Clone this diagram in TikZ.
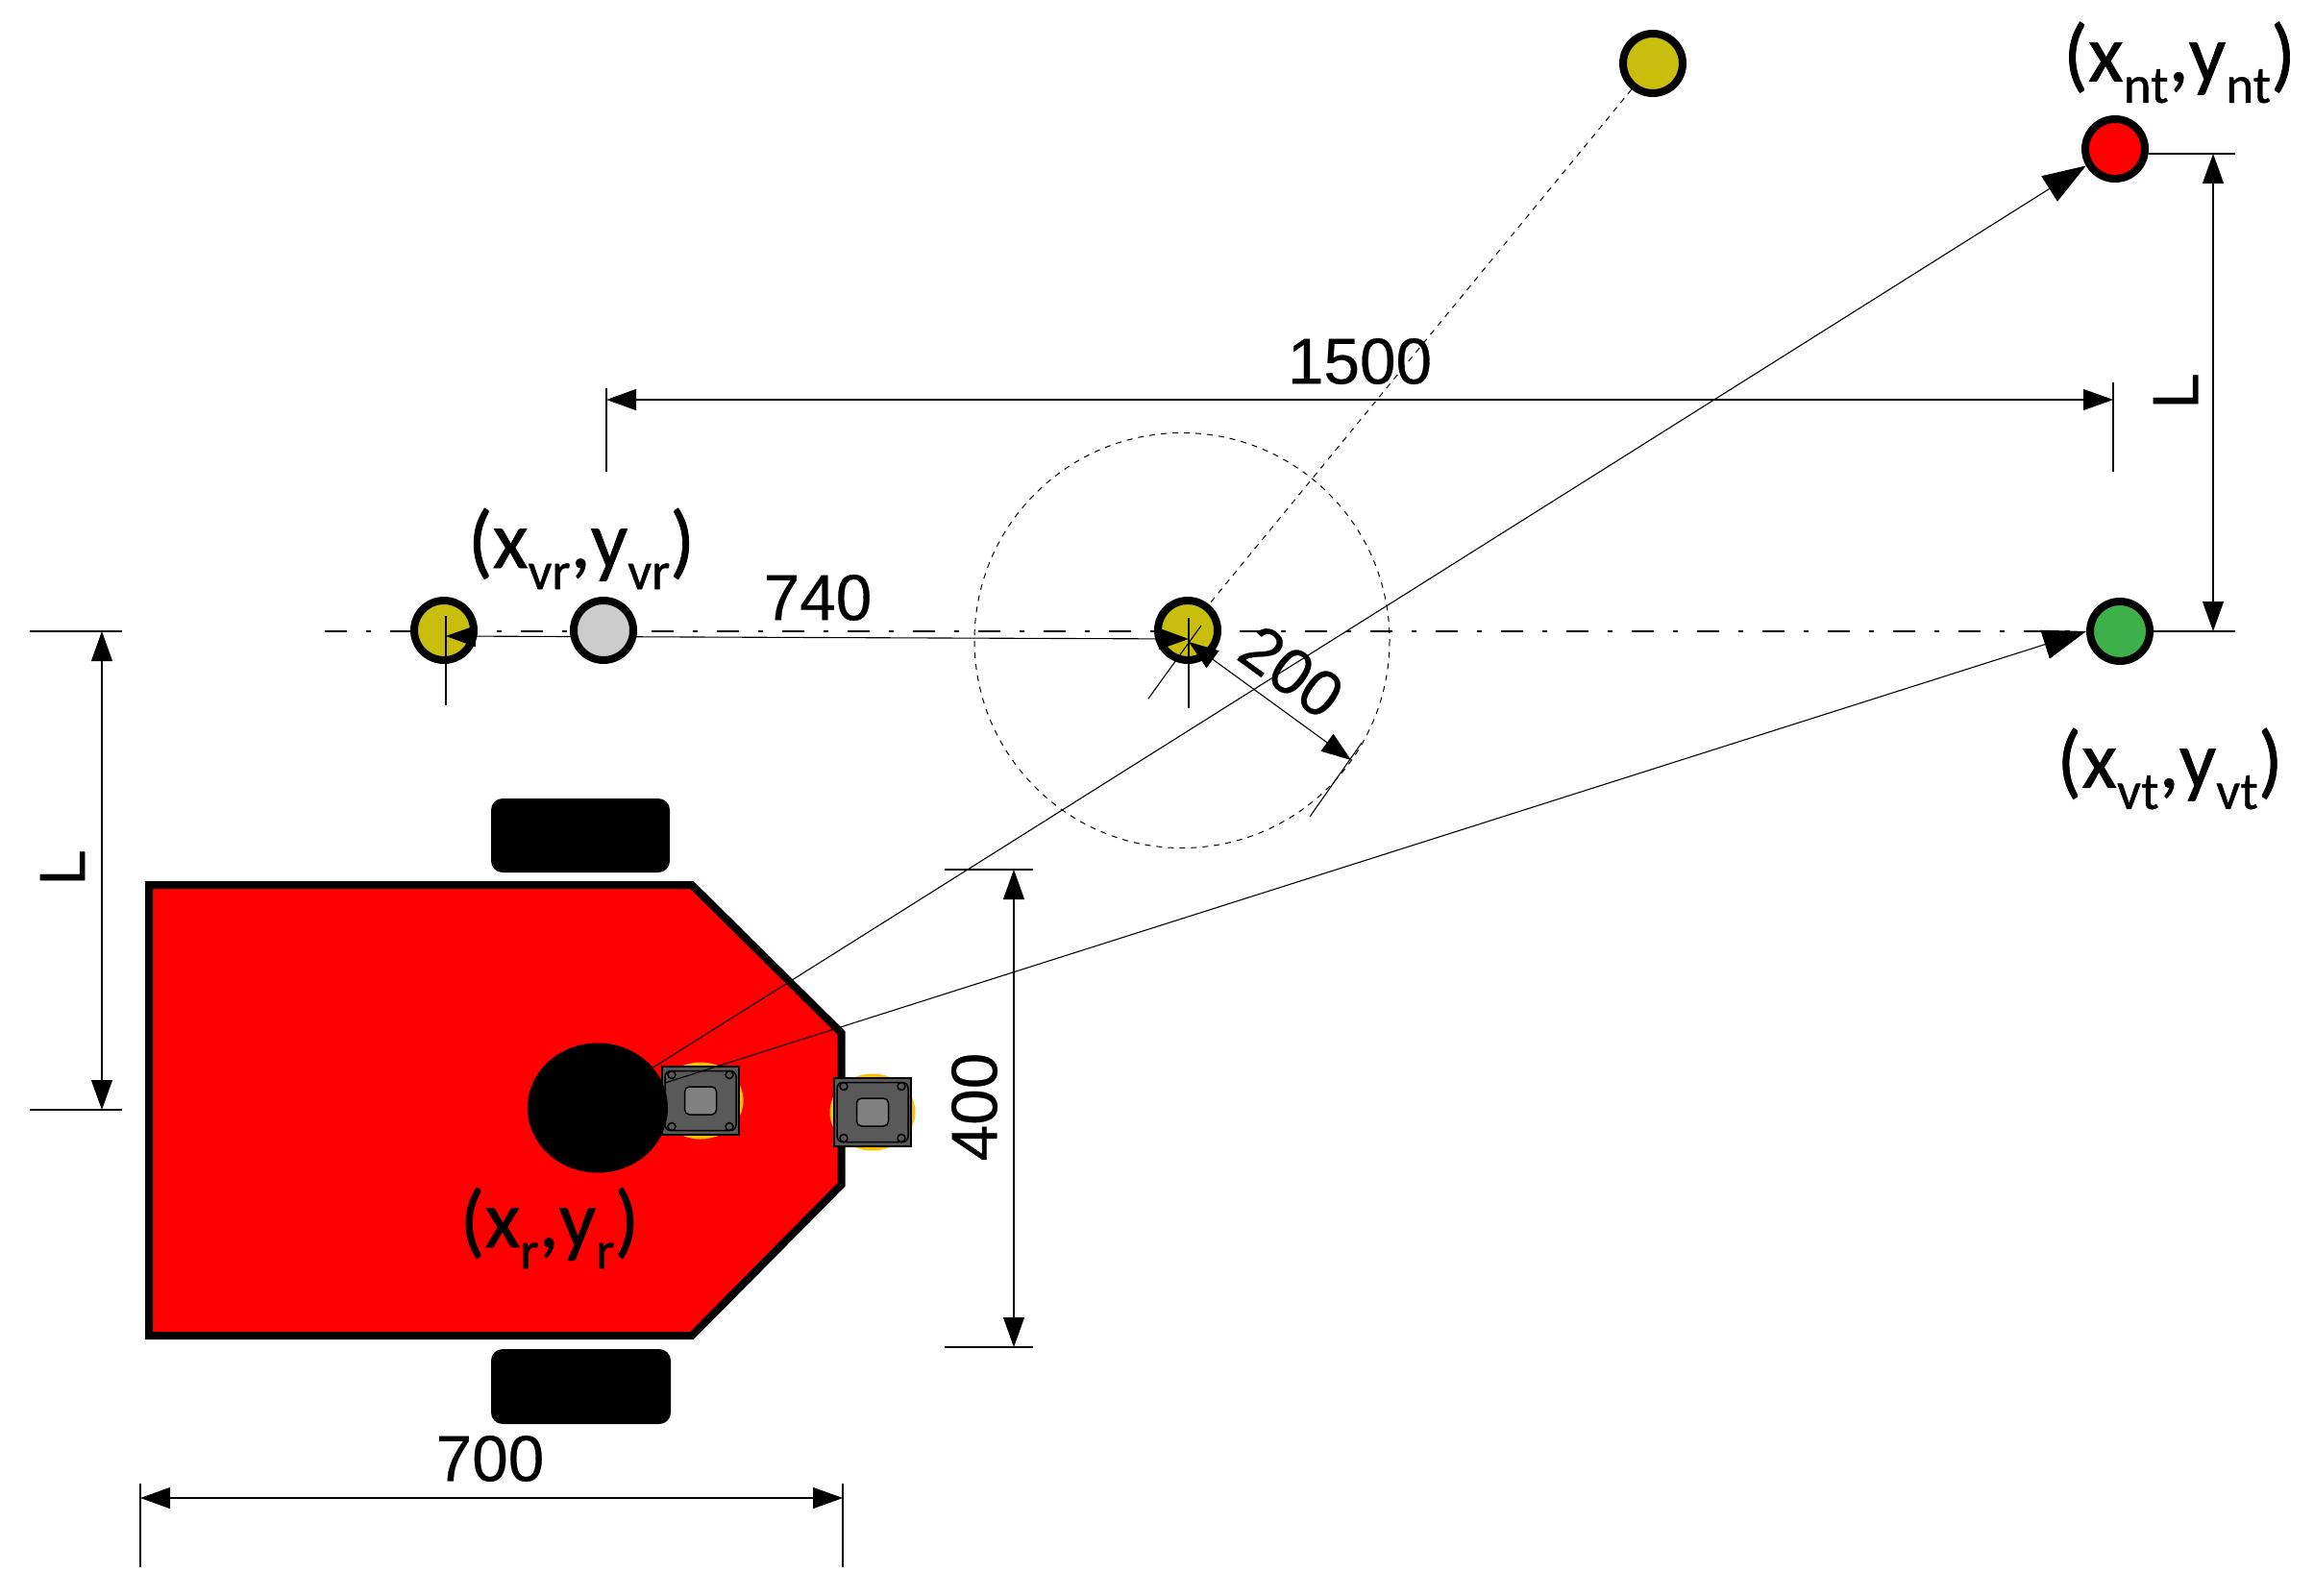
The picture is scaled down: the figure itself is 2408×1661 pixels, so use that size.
\documentclass[tikz,border=0pt]{standalone}
\usepackage{fontspec}
\usetikzlibrary{arrows.meta}
\newfontfamily\numfont[FakeBold=0.4]{Liberation Sans}
\newfontfamily\crdfont[FakeBold=0.8]{Carlito}
\definecolor{robotred}{HTML}{FF0000}
\definecolor{pointyellow}{HTML}{C9BD0E}
\definecolor{pointgrey}{HTML}{CCCCCC}
\definecolor{pointgreen}{HTML}{3EB049}
\definecolor{casteryellow}{HTML}{FFC000}
\definecolor{casterdark}{HTML}{595959}
\definecolor{casterlight}{HTML}{808080}
\newcommand\subb[1]{\raisebox{-22pt}{\fontsize{55}{55}\selectfont #1}}
\newcommand\crdtxt[2]{(x\subb{#1},y\subb{#2})}
\newcommand\castershape[2]{%
  \begin{scope}[shift={(#1,#2)}]
    \path[fill=casteryellow] (0,0) ellipse [x radius=44.5,y radius=40];
    \path[draw=black,line width=2.5pt,fill=casterdark] (-40,-35.5) rectangle (40,35.5);
    \path[draw=black,line width=1.5pt,rounded corners=6pt] (-37,-31) rectangle (37,31);
    \path[draw=black,line width=1.5pt,fill=casterlight,rounded corners=5pt] (-16.5,-14.5) rectangle (16.5,14.5);
    \foreach \hx in {-30,30}{\foreach \hy in {-27,27}{
      \path[draw=black,line width=1.5pt] (\hx,\hy) circle [radius=4];}}
  \end{scope}}
\tikzset{
  point/.style={circle,draw=black,line width=8pt,minimum size=62pt,inner sep=0pt,outer sep=4pt},
  thin line/.style={line width=1.1pt,draw=black},
  dim/.style={thin line,{Triangle[length=31pt,width=22pt]}-{Triangle[length=31pt,width=22pt]}},
  longarrow/.style={thin line,-{Triangle[length=45pt,width=31pt]}},
  numtext/.style={font=\numfont\fontsize{67.5}{68}\selectfont,inner sep=0pt},
  crdtext/.style={font=\crdfont\fontsize{85}{85}\selectfont,inner sep=0pt},
  centerline/.style={line width=1.1pt,draw=black,dash pattern=on 23pt off 20pt on 5pt off 20pt},
  fine dash/.style={line width=1pt,draw=black,dash pattern=on 6pt off 6pt},
  wheel/.style={fill=black,rounded corners=12pt},
}
\begin{document}
\begin{tikzpicture}[x=1pt,y=-1pt]
\useasboundingbox (0,0) rectangle (2408,1661);
% wheels
\path[wheel] (511,831) rectangle (697,908);
\path[wheel] (511,1404) rectangle (698,1482);
% robot body
\path[fill=robotred,draw=black,line width=8pt,miter limit=10] (155,921) -- (720,921) -- (875.5,1075) -- (875.5,1233) -- (720,1390) -- (155,1390) -- cycle;
\castershape{729}{1145.5}
\castershape{908}{1157.5}
\path[fill=black] (622,1153) ellipse [x radius=73,y radius=67.5];
% reference line and guide circle
\coordinate (cl1) at (338,657);
\coordinate (cl2) at (2325,657);
\path[centerline] (cl1) -- (cl2);
\coordinate (gc) at (1230,666.5);
\path[fine dash] (gc) circle [radius=216];
% points
\node[point,fill=pointyellow] (yl) at (462,656) {};
\node[point,fill=pointyellow] (ym) at (1236,656) {};
\node[point,fill=pointyellow] (yt) at (1720,66) {};
\node[point,fill=robotred] (nt) at (2201,155) {};
\node[point,fill=pointgreen] (vt) at (2206,657) {};
\path[fine dash] (yt) -- (ym);
% arrows from the robot
\coordinate (rs1) at (678,1112);
\coordinate (rs2) at (692,1127);
\path[longarrow] (rs1) -- (nt.210);
\path[longarrow] (rs2) -- (vt.west);
% 740 dimension
\coordinate (d740a) at (464,662);
\coordinate (d740b) at (1237,665);
\coordinate (t1a) at (464,641);
\coordinate (t1b) at (464,734);
\coordinate (t2a) at (1237,643);
\coordinate (t2b) at (1237,737);
\path[thin line] (t1a) -- (t1b);
\path[thin line] (t2a) -- (t2b);
\path[dim] (d740a) -- (d740b);
\node[point,fill=pointgrey] (gr) at (628,656) {};
\node[numtext] (n740) at (851,622) {740};
% 200 dimension
\coordinate (r1) at (1237,668);
\coordinate (r2) at (1406,791);
\coordinate (t3a) at (1250,651);
\coordinate (t3b) at (1195,727);
\coordinate (t4a) at (1417,773);
\coordinate (t4b) at (1363,850);
\path[thin line] (t3a) -- (t3b);
\path[thin line] (t4a) -- (t4b);
\path[dim] (r1) -- (r2);
\node[numtext,rotate=-36] (n200) at (1344,699) {200};
% 1500 dimension
\coordinate (w1) at (631,416);
\coordinate (w2) at (2199,416);
\coordinate (t5a) at (631,404);
\coordinate (t5b) at (631,491);
\coordinate (t6a) at (2199,398);
\coordinate (t6b) at (2199,491);
\path[thin line] (t5a) -- (t5b);
\path[thin line] (t6a) -- (t6b);
\path[dim] (w1) -- (w2);
\node[numtext] (n1500) at (1415,376) {1500};
% right L
\coordinate (la) at (2303,160);
\coordinate (lb) at (2303,657);
\coordinate (t7) at (2326,160);
\coordinate (t8) at (2326,657);
\path[thin line] (nt.east |- t7) -- (t7);
\path[thin line] (vt.east |- t8) -- (t8);
\path[dim] (la) -- (lb);
\node[numtext,rotate=90] (lr) at (2264,407) {L};
% left L
\coordinate (ma) at (106,657);
\coordinate (mb) at (106,1155);
\coordinate (t9a) at (31,657);
\coordinate (t9b) at (127,657);
\coordinate (t10a) at (31,1155);
\coordinate (t10b) at (127,1155);
\path[thin line] (t9a) -- (t9b);
\path[thin line] (t10a) -- (t10b);
\path[dim] (ma) -- (mb);
\node[numtext,rotate=90] (ll) at (65,903) {L};
% 400 dimension
\coordinate (fa) at (1055,905);
\coordinate (fb) at (1055,1402);
\coordinate (t11a) at (983,905);
\coordinate (t11b) at (1075,905);
\coordinate (t12a) at (983,1402);
\coordinate (t12b) at (1075,1402);
\path[thin line] (t11a) -- (t11b);
\path[thin line] (t12a) -- (t12b);
\path[dim] (fa) -- (fb);
\node[numtext,rotate=90] (n400) at (1014,1152) {400};
% 700 dimension
\coordinate (sa) at (146,1559);
\coordinate (sb) at (877,1559);
\coordinate (t13a) at (146,1544);
\coordinate (t13b) at (146,1631);
\coordinate (t14a) at (877,1544);
\coordinate (t14b) at (877,1631);
\path[thin line] (t13a) -- (t13b);
\path[thin line] (t14a) -- (t14b);
\path[dim] (sa) -- (sb);
\node[numtext] (n700) at (510,1518) {700};
% coordinate labels
\node[crdtext] (lnt) at (2268,65) {\crdtxt{nt}{nt}};
\node[crdtext] (lvr) at (605,571) {\crdtxt{vr}{vr}};
\node[crdtext] (lvt) at (2258,800) {\crdtxt{vt}{vt}};
\node[crdtext] (lr2) at (572,1278) {\crdtxt{r}{r}};
\end{tikzpicture}
\end{document}
